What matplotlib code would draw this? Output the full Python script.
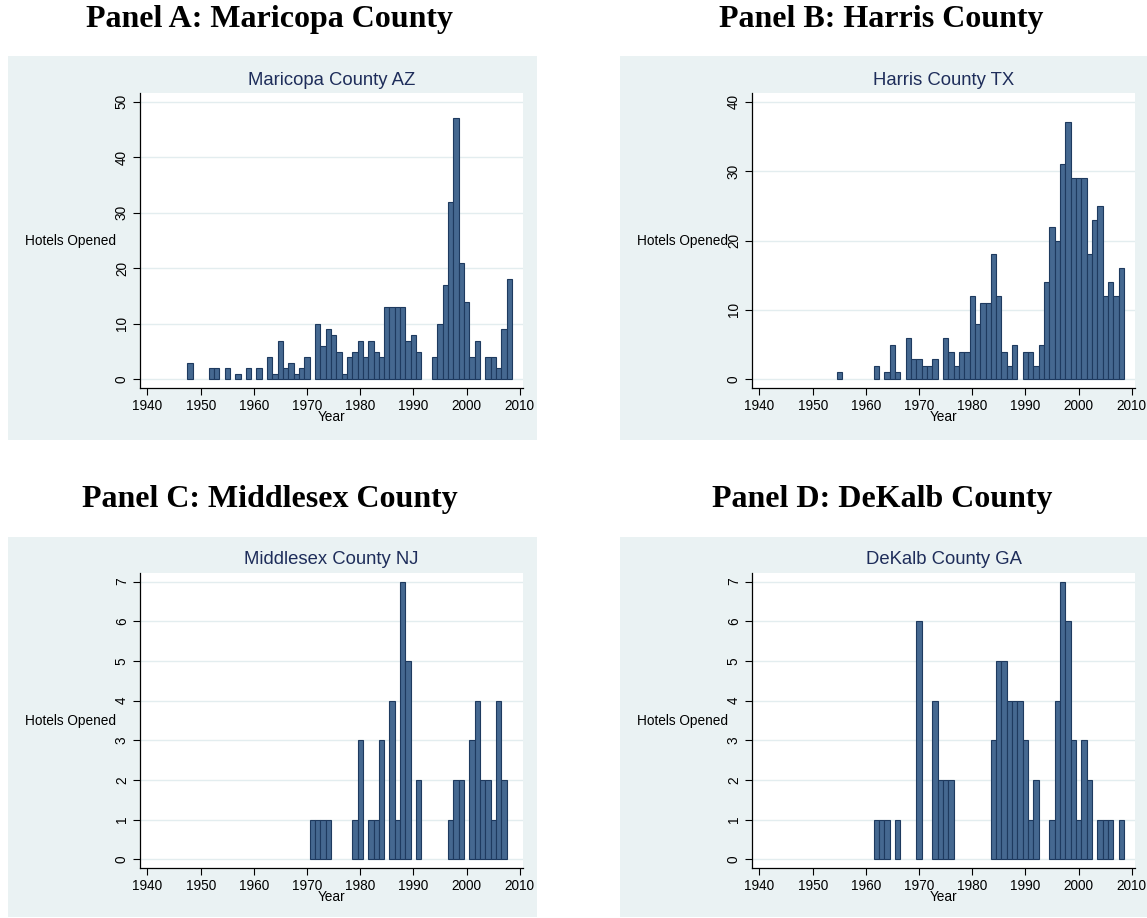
import matplotlib
matplotlib.use("Agg")
import matplotlib.pyplot as plt
from matplotlib.patches import Rectangle

# Hotels opened per year
maricopa_years = [1948, 1952, 1953, 1955, 1957, 1959, 1961, 1963, 1964, 1965, 1966, 1967, 1968, 1969, 1970,
                  1972, 1973, 1974, 1975, 1976, 1977, 1978, 1979, 1980, 1981, 1982, 1983, 1984, 1985, 1986,
                  1987, 1988, 1989, 1990, 1991, 1994, 1995, 1996, 1997, 1998, 1999, 2000, 2001, 2002, 2004,
                  2005, 2006, 2007, 2008]
maricopa_counts = [3, 2, 2, 2, 1, 2, 2, 4, 1, 7, 2, 3, 1, 2, 4,
                   10, 6, 9, 8, 5, 1, 4, 5, 7, 4, 7, 5, 4, 13, 13,
                   13, 13, 7, 8, 5, 4, 10, 17, 32, 47, 21, 14, 4, 7, 4,
                   4, 2, 9, 18]

harris_years = [1955, 1962, 1964, 1965, 1966, 1968, 1969, 1970, 1971, 1972, 1973, 1975, 1976, 1977, 1978,
                1979, 1980, 1981, 1982, 1983, 1984, 1985, 1986, 1987, 1988, 1990, 1991, 1992, 1993, 1994,
                1995, 1996, 1997, 1998, 1999, 2000, 2001, 2002, 2003, 2004, 2005, 2006, 2007, 2008]
harris_counts = [1, 2, 1, 5, 1, 6, 3, 3, 2, 2, 3, 6, 4, 2, 4,
                 4, 12, 8, 11, 11, 18, 12, 4, 2, 5, 4, 4, 2, 5, 14,
                 22, 20, 31, 37, 29, 29, 29, 18, 23, 25, 12, 14, 12, 16]

middlesex_years = [1971, 1972, 1973, 1974, 1979, 1980, 1982, 1983, 1984, 1986, 1987, 1988, 1989, 1991,
                   1997, 1998, 1999, 2001, 2002, 2003, 2004, 2005, 2006, 2007]
middlesex_counts = [1, 1, 1, 1, 1, 3, 1, 1, 3, 4, 1, 7, 5, 2,
                    1, 2, 2, 3, 4, 2, 2, 1, 4, 2]

dekalb_years = [1962, 1963, 1964, 1966, 1970, 1973, 1974, 1975, 1976, 1984, 1985, 1986, 1987, 1988, 1989,
                1990, 1991, 1992, 1995, 1996, 1997, 1998, 1999, 2000, 2001, 2002, 2004, 2005, 2006, 2008]
dekalb_counts = [1, 1, 1, 1, 6, 4, 2, 2, 2, 3, 5, 5, 4, 4, 4,
                 3, 1, 2, 1, 4, 7, 6, 3, 1, 3, 2, 1, 1, 1, 1]

panel_titles = ["Panel A: Maricopa County", "Panel B: Harris County",
                "Panel C: Middlesex County", "Panel D: DeKalb County"]
graph_titles = ["Maricopa County AZ", "Harris County TX", "Middlesex County NJ", "DeKalb County GA"]
y_ticks = [list(range(0, 51, 10)), list(range(0, 41, 10)), list(range(0, 8)), list(range(0, 8))]
x_ticks = list(range(1940, 2011, 10))

W, H = 1147, 918
fig = plt.figure(figsize=(W / 100, H / 100), dpi=100)
fig.patch.set_facecolor("white")

BG = "#EAF2F3"
BAR = "#456890"
EDGE = "#1E3A5F"
NAVY = "#1E2D5A"


def px_rect(x0, y0, x1, y1):
    # pixel box (top-left origin) -> figure fraction [left, bottom, width, height]
    return [x0 / W, 1 - y1 / H, (x1 - x0) / W, (y1 - y0) / H]


# graph regions (light background) and plot areas, in pixels
regions = [(8, 56, 537, 440), (620, 56, 1147, 440), (8, 537, 537, 917), (620, 537, 1147, 917)]
plots = [(140, 93, 523, 388), (752, 93, 1135, 388), (140, 573, 523, 868), (752, 573, 1135, 868)]
heads = [(270, 19), (881, 19), (270, 499), (882, 499)]

data = [(maricopa_years, maricopa_counts), (harris_years, harris_counts),
        (middlesex_years, middlesex_counts), (dekalb_years, dekalb_counts)]

for i in range(4):
    r = px_rect(*regions[i])
    fig.patches.append(Rectangle((r[0], r[1]), r[2], r[3], transform=fig.transFigure,
                                 facecolor=BG, edgecolor="none", zorder=-5))
    fig.text(heads[i][0] / W, 1 - heads[i][1] / H, panel_titles[i], ha="center", va="center",
             fontsize=23, fontweight="bold", family="Liberation Serif")

    ax = fig.add_axes(px_rect(*plots[i]))
    ax.set_zorder(1)
    ax.set_facecolor("white")
    years, counts = data[i]
    ymax = y_ticks[i][-1]
    ax.bar(years, counts, width=1.0, color=BAR, edgecolor=EDGE, linewidth=0.8, zorder=3)

    ax.set_xlim(1938.6, 2010.6)
    ax.set_ylim(-0.031 * ymax, 1.031 * ymax)
    ax.set_xticks(x_ticks)
    ax.set_yticks(y_ticks[i])
    ax.set_yticklabels([str(v) for v in y_ticks[i]], rotation=90, va="center")
    ax.tick_params(axis="both", labelsize=9.8, length=5, width=0.8, color="black", pad=3)
    for lab in ax.get_xticklabels() + ax.get_yticklabels():
        lab.set_family("Liberation Sans")
    ax.grid(axis="y", color="#E3EDEF", linewidth=1.0, zorder=0)
    ax.set_axisbelow(True)
    for side in ["top", "right"]:
        ax.spines[side].set_visible(False)
    for side in ["left", "bottom"]:
        ax.spines[side].set_linewidth(0.9)

    ax_h = plots[i][3] - plots[i][1]
    ax_w = plots[i][2] - plots[i][0]
    ax.text(0.5, 1 + 13 / ax_h, graph_titles[i], transform=ax.transAxes, ha="center", va="center",
            fontsize=13.3, color=NAVY, family="Liberation Sans")
    ax.text(-24 / ax_w, 0.5, "Hotels Opened", transform=ax.transAxes, ha="right", va="center",
            fontsize=9.8, family="Liberation Sans", zorder=5)
    ax.text(0.5, -29 / ax_h, "Year", transform=ax.transAxes, ha="center", va="center",
            fontsize=9.8, family="Liberation Sans")

fig.savefig("out.png", dpi=100, facecolor="white")
